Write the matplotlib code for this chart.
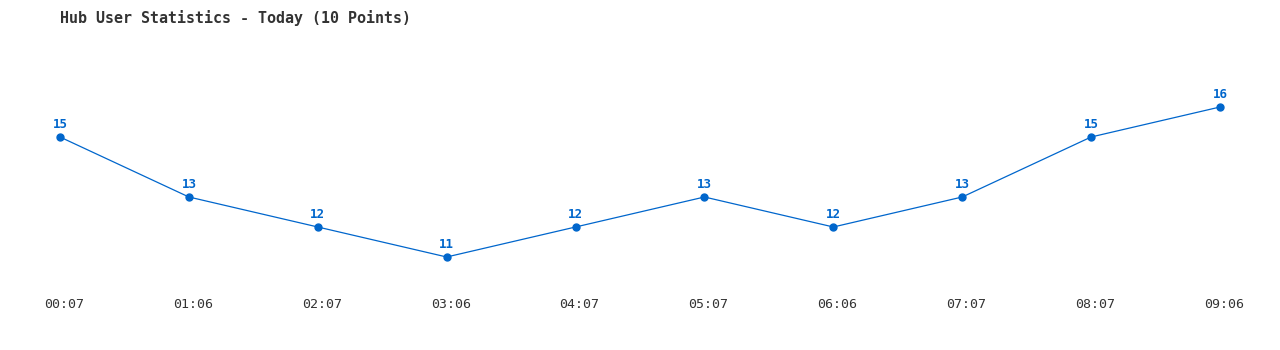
import matplotlib
matplotlib.use("Agg")
import matplotlib.pyplot as plt
import matplotlib.transforms as mtransforms

times = ["00:07", "01:06", "02:07", "03:06", "04:07", "05:07", "06:06", "07:07", "08:07", "09:06"]
users = [15, 13, 12, 11, 12, 13, 12, 13, 15, 16]
title = "Hub User Statistics - Today (10 Points)"

blue = "#0066cc"
mono = "DejaVu Sans Mono"

fig = plt.figure(figsize=(12.8, 3.5), dpi=100)
ax = fig.add_axes([0, 58 / 350, 1, 292 / 350])

x = list(range(len(users)))
ax.plot(x, users, color=blue, linewidth=0.9, marker="o", markersize=5)

for xi, v in zip(x, users):
    ax.annotate(str(v), (xi, v), xytext=(0, 4.5), textcoords="offset points",
                ha="center", va="bottom", color=blue, fontsize=9,
                fontweight="bold", family=mono)

ax.set_xlim(-0.4655, 9.4655)
ax.set_ylim(9.833, 19.567)
ax.set_xticks(x)
ax.set_xticklabels(times, family=mono, fontsize=9.5, color="#333333")
ax.tick_params(axis="x", length=0, pad=4)
# labels sit a few pixels right of the points in the original
shift = mtransforms.ScaledTranslation(4 / 100, 0, fig.dpi_scale_trans)
for lab in ax.get_xticklabels():
    lab.set_transform(lab.get_transform() + shift)
ax.set_yticks([])
for s in ax.spines.values():
    s.set_visible(False)

fig.text(60 / 1280, 1 - 18 / 350, title, ha="left", va="center",
         fontsize=10.8, fontweight="bold", family=mono, color="#333333")

fig.savefig("out.png", dpi=100)
